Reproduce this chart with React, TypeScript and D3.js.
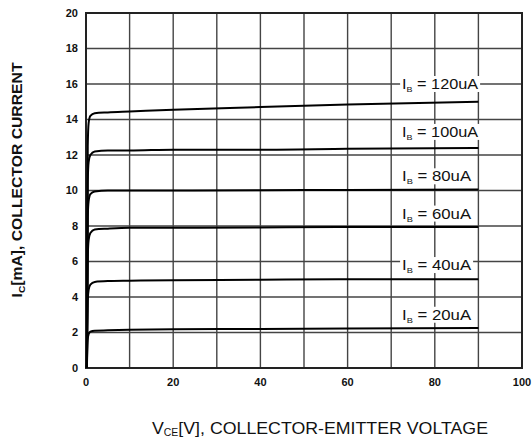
import React from "react";
import * as d3 from "d3";

// V_CE sample points (V)
const vce = [0.2, 0.4, 0.6, 1, 2, 5, 10, 20, 40, 60, 90];

// I_C (mA)
const ib20 = [0, 1.6, 1.9, 2.05, 2.1, 2.12, 2.15, 2.18, 2.2, 2.22, 2.25];
const ib40 = [0, 3.8, 4.4, 4.7, 4.85, 4.9, 4.92, 4.95, 4.97, 5.0, 5.0];
const ib60 = [0, 6.2, 7.2, 7.6, 7.8, 7.85, 7.9, 7.9, 7.92, 7.95, 7.95];
const ib80 = [0, 8.5, 9.4, 9.8, 9.95, 10.0, 10.0, 10.0, 10.02, 10.03, 10.05];
const ib100 = [0, 10.5, 11.6, 12.0, 12.2, 12.25, 12.25, 12.3, 12.3, 12.35, 12.4];
const ib120 = [0, 12.5, 13.8, 14.2, 14.35, 14.4, 14.45, 14.55, 14.7, 14.85, 15.0];

const series = [
  { name: "20uA", values: ib20, labelY: 3.0 },
  { name: "40uA", values: ib40, labelY: 5.8 },
  { name: "60uA", values: ib60, labelY: 8.7 },
  { name: "80uA", values: ib80, labelY: 10.8 },
  { name: "100uA", values: ib100, labelY: 13.3 },
  { name: "120uA", values: ib120, labelY: 16.0 },
];

const xTicks = [0, 20, 40, 60, 80, 100];
const yTicks = [0, 2, 4, 6, 8, 10, 12, 14, 16, 18, 20];
const xGrid = [10, 20, 30, 40, 50, 60, 70, 80, 90];

const W = 532;
const H = 444;
const margin = { top: 13, right: 10, bottom: 76, left: 86 };
const font = "'Liberation Sans', Arial, sans-serif";

export default function App() {
  const x = d3.scaleLinear().domain([0, 100]).range([margin.left, W - margin.right]);
  const y = d3.scaleLinear().domain([0, 20]).range([H - margin.bottom, margin.top]);

  const line = d3
    .line<number>()
    .x((_, i) => x(vce[i]))
    .y((d) => y(d))
    .curve(d3.curveMonotoneX);

  const labelX = x(72.5);

  return (
    <svg
      width={W}
      height={H}
      style={{ position: "absolute", left: 0, top: 0, background: "#fff" }}
      fontFamily={font}
    >
      {/* grid */}
      <g stroke="#444" strokeWidth={1.4}>
        {xGrid.map((v) => (
          <line key={"gx" + v} x1={x(v)} x2={x(v)} y1={y(0)} y2={y(20)} />
        ))}
        {yTicks.slice(1, -1).map((v) => (
          <line key={"gy" + v} x1={x(0)} x2={x(100)} y1={y(v)} y2={y(v)} />
        ))}
      </g>
      <rect
        x={x(0)}
        y={y(20)}
        width={x(100) - x(0)}
        height={y(0) - y(20)}
        fill="none"
        stroke="#222"
        strokeWidth={2}
      />

      {/* curve labels with white background */}
      {series.map((s) => {
        const wide = s.name.length > 4;
        const w = wide ? 76 : 69;
        return (
          <g key={"lab" + s.name}>
            <rect x={labelX - 2} y={y(s.labelY) - 8} width={w + 4} height={16} fill="#fff" />
            <text
              x={labelX}
              y={y(s.labelY)}
              dy="0.35em"
              fontSize={14.5}
              fill="#111"
              textLength={w}
              lengthAdjust="spacingAndGlyphs"
            >
              I<tspan fontSize={8} dy={3}>B</tspan>
              <tspan dy={-3}> = {s.name}</tspan>
            </text>
          </g>
        );
      })}

      {/* curves */}
      <g fill="none" stroke="#000" strokeWidth={2}>
        {series.map((s) => (
          <path key={s.name} d={line(s.values) || ""} />
        ))}
      </g>

      {/* tick labels */}
      <g fontSize={11} fontWeight="bold" fill="#111">
        {yTicks.map((v) => (
          <text key={"ty" + v} x={78} y={y(v)} dy="0.35em" textAnchor="end">
            {v}
          </text>
        ))}
        {xTicks.map((v) => (
          <text key={"tx" + v} x={x(v)} y={386} textAnchor="middle">
            {v}
          </text>
        ))}
      </g>

      {/* axis titles */}
      <text
        transform={`translate(22, 180) rotate(-90)`}
        textAnchor="middle"
        fontSize={14}
        fontWeight="bold"
        fill="#111"
        textLength={235}
        lengthAdjust="spacingAndGlyphs"
      >
        I<tspan fontSize={9} dy={3}>C</tspan>
        <tspan dy={-3}>[mA], COLLECTOR CURRENT</tspan>
      </text>
      <text
        x={152}
        y={434}
        fontSize={17}
        fill="#111"
        textLength={336}
        lengthAdjust="spacingAndGlyphs"
      >
        V<tspan fontSize={10} dy={2}>CE</tspan>
        <tspan dy={-2}>[V], COLLECTOR-EMITTER VOLTAGE</tspan>
      </text>
    </svg>
  );
}
